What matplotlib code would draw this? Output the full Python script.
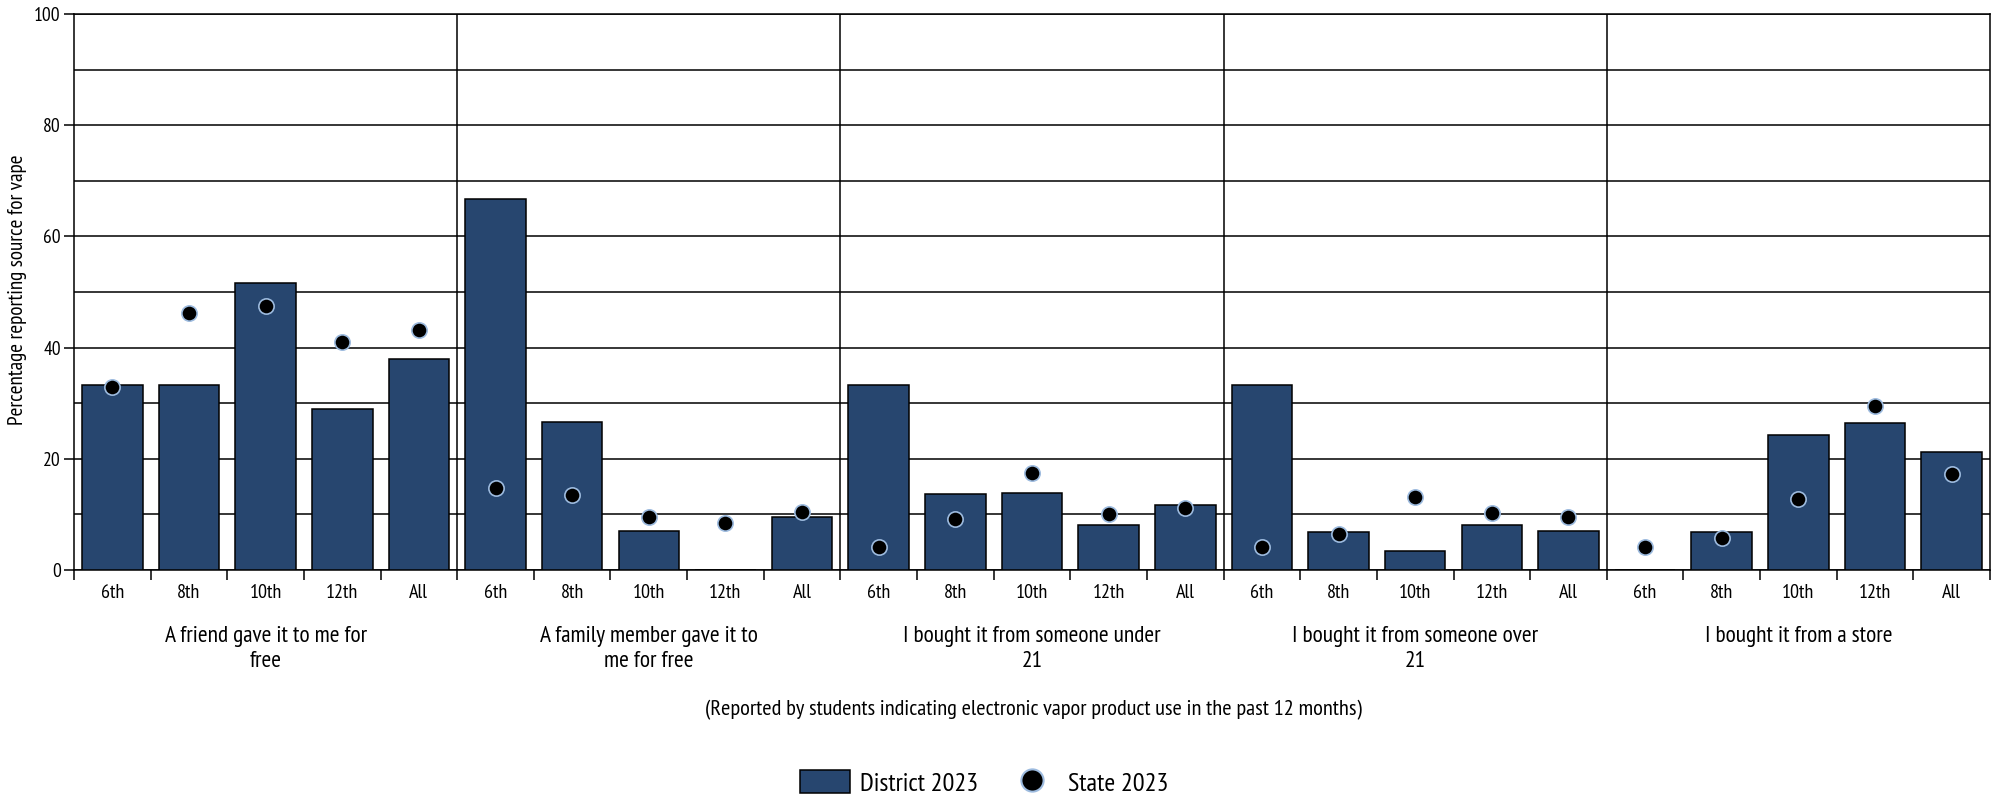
import matplotlib
matplotlib.use("Agg")
import matplotlib.pyplot as plt
import numpy as np
from matplotlib.patches import Patch
from matplotlib.lines import Line2D

plt.rcParams['font.family'] = ['PT Sans Narrow', 'DejaVu Sans']

# data
groups = ['A friend gave it to me for\nfree',
          'A family member gave it to\nme for free',
          'I bought it from someone under\n21',
          'I bought it from someone over\n21',
          'I bought it from a store']
grades = ['6th', '8th', '10th', '12th', 'All']

district = [33.3, 33.3, 51.7, 28.9, 37.9,
            66.7, 26.7, 7.1, 0.0, 9.6,
            33.3, 13.6, 13.9, 8.1, 11.7,
            33.3, 6.8, 3.4, 8.1, 7.1,
            0.0, 6.8, 24.3, 26.5, 21.2]
state = [33.0, 46.2, 47.5, 41.0, 43.2,
         14.8, 13.4, 9.5, 8.4, 10.5,
         4.2, 9.2, 17.4, 10.0, 11.2,
         4.2, 6.4, 13.2, 10.3, 9.6,
         4.2, 5.8, 12.7, 29.5, 17.2]

bar_color = '#27466F'
dot_edge = '#9DBBDF'

W, H = 1999, 801
fig = plt.figure(figsize=(W / 100, H / 100), dpi=100)
ax = fig.add_axes([74 / W, 1 - 570 / H, (1990 - 74) / W, (570 - 14) / H])

n = len(district)
x = np.arange(n)
ax.bar(x, district, width=0.79, color=bar_color, edgecolor='black', linewidth=1.1, zorder=3)
ax.plot(x, state, linestyle='none', marker='o', markersize=11, markerfacecolor='black',
        markeredgecolor=dot_edge, markeredgewidth=1.2, zorder=4)

ax.set_xlim(-0.5, n - 0.5)
ax.set_ylim(0, 100)

# gridlines every 10, labels every 20
ax.set_yticks(range(0, 101, 20))
ax.set_yticks(range(0, 101, 10), minor=True)
ax.yaxis.grid(True, which='both', color='black', linewidth=1.1, zorder=0)
ax.tick_params(axis='y', which='major', length=7.5, width=1.1, pad=2, labelsize=14)
ax.tick_params(axis='y', which='minor', length=0)

# grade labels under each bar, tick marks at the slot boundaries
ax.set_xticks(x)
ax.set_xticklabels(grades * len(groups))
ax.set_xticks(np.arange(-0.5, n, 1), minor=True)
ax.tick_params(axis='x', which='major', length=0, pad=10, labelsize=14.5)
ax.tick_params(axis='x', which='minor', length=7.5, width=1.1)

for k in range(1, len(groups)):
    ax.axvline(5 * k - 0.5, color='black', linewidth=1.1, zorder=1)

for s in ax.spines.values():
    s.set_linewidth(1.1)
    s.set_color('black')

trans = ax.get_xaxis_transform()
for k, g in enumerate(groups):
    ax.text(5 * k + 2, -0.1, g, transform=trans, ha='center', va='top',
            fontsize=16.8, linespacing=1.25)

fig.text(18 / W, 1 - 290 / H, 'Percentage reporting source for vape', rotation=90,
         ha='center', va='center', fontsize=15.2)
fig.text(1033 / W, 1 - 710 / H,
         '(Reported by students indicating electronic vapor product use in the past 12 months)',
         ha='center', va='center', fontsize=16.1)

handles = [Patch(facecolor=bar_color, edgecolor='black', linewidth=1.1),
           Line2D([], [], linestyle='none', marker='o', markersize=16, markerfacecolor='black',
                  markeredgecolor=dot_edge, markeredgewidth=1.5)]
fig.legend(handles, ['District 2023', 'State 2023'], loc='center', bbox_to_anchor=(984 / W, 1 - 783 / H),
           ncol=2, frameon=False, fontsize=19, handlelength=1.9, handleheight=0.95,
           handletextpad=0.4, columnspacing=1.1, borderpad=0)

fig.savefig('out.png', dpi=100)
